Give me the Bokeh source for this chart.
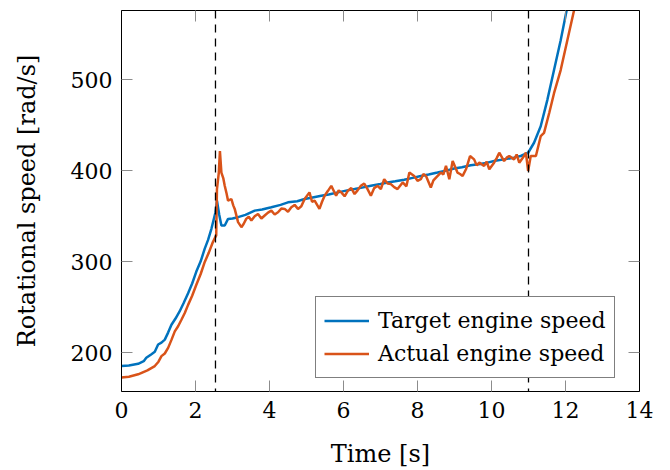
from bokeh.plotting import figure
from bokeh.models import (ColumnDataSource, LinearAxis, Legend, LegendItem, Span,
                          FixedTicker, CustomJSTickFormatter)
from bokeh.embed import file_html
from bokeh.resources import INLINE

# ---- data ----
t_target = [0.0, 0.2, 0.45, 0.6, 0.67, 0.8, 0.9, 0.99, 1.08, 1.17, 1.26, 1.35, 1.46, 1.57, 1.68,
            1.8, 1.91, 2.02, 2.14, 2.25, 2.34, 2.43, 2.54, 2.58, 2.64, 2.7, 2.79, 2.88, 3.0,
            3.15, 3.35, 3.6, 3.8, 4.05, 4.3, 4.5, 4.75, 4.95, 5.2, 5.4, 5.6, 5.85, 6.1, 6.3,
            6.5, 6.74, 7.0, 7.19, 7.4, 7.64, 7.9, 8.09, 8.3, 8.54, 8.8, 8.99, 9.2, 9.44, 9.7,
            9.89, 10.1, 10.34, 10.6, 10.79, 10.99, 11.15, 11.33, 11.51, 11.69, 11.87, 12.03, 12.2]
target = [185.2, 185.8, 187.7, 190.5, 194.3, 198.0, 200.9, 208.9, 211.0, 214.3, 222.0, 230.7, 237.5,
          245.3, 254.5, 265.3, 276.0, 288.9, 300.5, 314.4, 324.0, 336.2, 354.4, 367.2, 352.0, 339.9,
          339.9, 347.1, 347.5, 349.0, 351.5, 356.2, 357.5, 359.9, 362.5, 365.3, 366.5, 369.0, 371.0,
          372.6, 374.0, 376.3, 378.5, 379.9, 381.5, 383.5, 385.5, 387.2, 388.5, 390.1, 392.5, 394.4,
          396.0, 398.1, 400.5, 402.5, 404.0, 406.1, 407.5, 409.0, 411.0, 412.6, 414.5, 416.3, 419.9,
          430.9, 449.0, 478.1, 510.9, 543.7, 576.4, 615.0]

t_actual = [0.0, 0.2, 0.45, 0.7, 0.9, 1.0, 1.08, 1.17, 1.26, 1.35, 1.44, 1.53, 1.62, 1.71, 1.8,
            1.91, 2.02, 2.14, 2.25, 2.36, 2.47, 2.56, 2.58, 2.63, 2.66, 2.7, 2.75, 2.79, 2.84,
            2.88, 2.97, 3.02, 3.06, 3.15, 3.24, 3.3, 3.37, 3.44, 3.51, 3.6, 3.69, 3.78, 3.87,
            3.96, 4.05, 4.14, 4.23, 4.32, 4.41, 4.5, 4.59, 4.68, 4.77, 4.86, 4.95, 5.08, 5.15,
            5.22, 5.35, 5.42, 5.49, 5.58, 5.67, 5.8, 5.87, 5.94, 6.03, 6.12, 6.21, 6.3, 6.38,
            6.47, 6.56, 6.65, 6.74, 6.83, 6.92, 7.01, 7.1, 7.19, 7.28, 7.37, 7.46, 7.6, 7.7,
            7.78, 7.91, 8.0, 8.09, 8.16, 8.23, 8.36, 8.43, 8.5, 8.63, 8.7, 8.77, 8.86, 8.95,
            9.08, 9.15, 9.22, 9.31, 9.42, 9.53, 9.6, 9.67, 9.8, 9.87, 9.94, 10.07, 10.14, 10.21,
            10.34, 10.41, 10.48, 10.61, 10.68, 10.75, 10.88, 10.93, 10.99, 11.06, 11.2, 11.33,
            11.42, 11.56, 11.69, 11.87, 12.05, 12.23, 12.4]
actual = [172.5, 173.5, 176.1, 180.5, 185.2, 190.0, 196.1, 199.0, 205.2, 214.0, 223.4, 229.0,
          236.2, 243.5, 252.5, 262.5, 274.4, 286.5, 299.8, 310.0, 321.7, 329.0, 379.9, 398.1,
          421.7, 398.1, 392.0, 383.5, 375.0, 367.2, 369.0, 362.0, 358.1, 343.5, 338.0, 341.5,
          347.1, 349.5, 345.3, 350.0, 352.6, 347.5, 350.8, 354.0, 356.2, 352.0, 354.4, 358.5,
          358.1, 355.0, 359.9, 362.5, 358.1, 361.0, 369.0, 376.3, 366.0, 367.2, 358.1, 366.0,
          372.6, 378.0, 383.5, 372.6, 378.5, 376.3, 372.0, 378.1, 381.0, 374.4, 378.5, 383.5,
          386.0, 379.9, 372.6, 381.0, 383.5, 380.0, 390.8, 386.0, 385.4, 382.0, 379.9, 387.2,
          383.0, 398.1, 394.4, 389.0, 390.8, 396.5, 394.4, 381.7, 389.5, 392.6, 398.1, 396.0,
          405.4, 390.8, 410.8, 398.1, 396.5, 394.4, 401.7, 416.3, 412.6, 406.0, 409.0, 405.4,
          410.0, 401.7, 409.0, 414.0, 419.9, 410.8, 414.5, 416.3, 412.6, 418.0, 409.0, 416.3,
          419.9, 399.9, 416.3, 416.3, 438.1, 441.8, 463.6, 485.4, 510.9, 543.7, 576.4, 615.0]

event_times = [2.54, 11.0]
x_ticks = [0, 2, 4, 6, 8, 10, 12, 14]
y_ticks = [200, 300, 400, 500]
series_names = ["Target engine speed", "Actual engine speed"]
series_colors = ["#0072BD", "#D95319"]

FONT = "DejaVu Serif"
FS_TICK = "22px"
FS_AXIS = "24px"
FS_LEG = "22px"
TICK_COLOR = "#8c8c8c"

p = figure(width=670, height=470, x_range=(0, 14), y_range=(157.2, 576.4),
           output_backend="svg", toolbar_location=None,
           min_border_left=121, min_border_right=31, min_border_top=10, min_border_bottom=76)
p.background_fill_color = "white"
p.border_fill_color = "white"
p.outline_line_color = "black"
p.outline_line_width = 1
p.xgrid.visible = False
p.ygrid.visible = False

for ax, ticks in ((p.xaxis[0], x_ticks), (p.yaxis[0], y_ticks)):
    ax.ticker = FixedTicker(ticks=ticks)
    ax.major_tick_in = 11
    ax.major_tick_out = 0
    ax.major_tick_line_color = TICK_COLOR
    ax.minor_tick_line_color = None
    ax.axis_line_color = "black"
    ax.major_label_text_font = FONT
    ax.major_label_text_font_size = FS_TICK
    ax.major_label_text_color = "black"
    ax.axis_label_text_font = FONT
    ax.axis_label_text_font_size = FS_AXIS
    ax.axis_label_text_font_style = "normal"
    ax.axis_label_text_color = "black"

p.xaxis[0].axis_label = "Time [s]"
p.xaxis[0].major_label_standoff = 10
p.xaxis[0].axis_label_standoff = 19
p.yaxis[0].axis_label = "Rotational speed [rad/s]"
p.yaxis[0].major_label_standoff = 9
p.yaxis[0].axis_label_standoff = 27

blank = CustomJSTickFormatter(code="return ''")
top = LinearAxis(ticker=FixedTicker(ticks=x_ticks), major_tick_in=11, major_tick_out=0,
                 major_tick_line_color=TICK_COLOR, minor_tick_line_color=None,
                 axis_line_color="black", formatter=blank, major_label_standoff=0)
right = LinearAxis(ticker=FixedTicker(ticks=y_ticks), major_tick_in=11, major_tick_out=0,
                   major_tick_line_color=TICK_COLOR, minor_tick_line_color=None,
                   axis_line_color="black", formatter=blank, major_label_standoff=0)
p.add_layout(top, "above")
p.add_layout(right, "right")

for t in event_times:
    p.add_layout(Span(location=t, dimension="height", line_color="black",
                      line_width=1.3, line_dash="8 6"))

src_t = ColumnDataSource(dict(x=t_target, y=target))
src_a = ColumnDataSource(dict(x=t_actual, y=actual))
r1 = p.line("x", "y", source=src_t, line_color=series_colors[0], line_width=2.5)
r2 = p.line("x", "y", source=src_a, line_color=series_colors[1], line_width=2.5)

legend = Legend(items=[LegendItem(label=series_names[0], renderers=[r1]),
                       LegendItem(label=series_names[1], renderers=[r2])],
                location=(194, 13), orientation="vertical")
legend.label_text_font = FONT
legend.label_text_font_size = FS_LEG
legend.label_text_color = "black"
legend.border_line_color = "black"
legend.border_line_width = 1
legend.background_fill_alpha = 1
legend.glyph_width = 45
legend.glyph_height = 31
legend.label_height = 31
legend.label_standoff = 9
legend.padding = 8
legend.spacing = 2
legend.margin = 0
p.add_layout(legend, "center")

open("out.html", "w").write(file_html(p, INLINE))
